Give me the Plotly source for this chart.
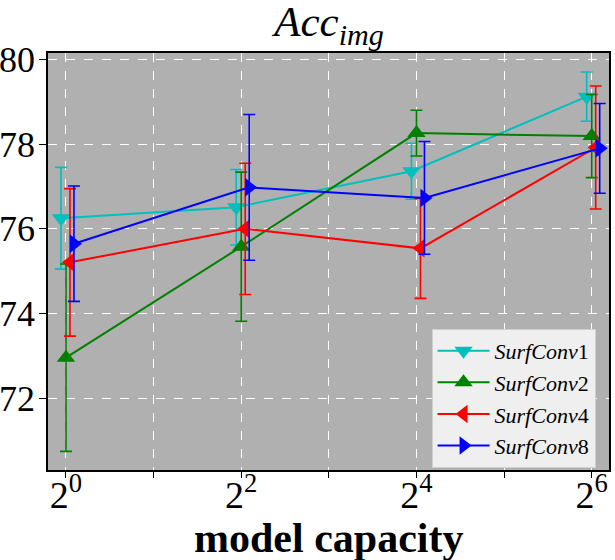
import plotly.graph_objects as go

capacity = [1, 4, 16, 64]

series_names = ["SurfConv1", "SurfConv2", "SurfConv4", "SurfConv8"]
acc_conv1 = [76.25, 76.51, 77.36, 79.12]
err_conv1 = [1.20, 0.89, 0.66, 0.58]
acc_conv2 = [72.96, 75.58, 78.26, 78.19]
err_conv2 = [2.21, 1.76, 0.54, 0.98]
acc_conv4 = [75.21, 76.00, 75.54, 77.92]
err_conv4 = [1.74, 1.55, 1.18, 1.45]
acc_conv8 = [75.65, 76.98, 76.73, 77.90]
err_conv8 = [1.36, 1.72, 1.33, 1.06]

# small horizontal dodge so the error bars don't sit on top of each other
styles = [
    ("#00bfbf", "triangle-down", 0.961),
    ("#008000", "triangle-up", 1.0),
    ("#ff0000", "triangle-left", 1.032),
    ("#0000ff", "triangle-right", 1.065),
]

series = [
    (acc_conv1, err_conv1),
    (acc_conv2, err_conv2),
    (acc_conv4, err_conv4),
    (acc_conv8, err_conv8),
]

SERIF = "Liberation Serif"

fig = go.Figure()

for name, (acc, err), (color, symbol, shift) in zip(series_names, series, styles):
    fig.add_trace(
        go.Scatter(
            x=[c * shift for c in capacity],
            y=acc,
            mode="lines+markers",
            name="<i>SurfConv</i>" + name[-1],
            line=dict(color=color, width=2),
            marker=dict(symbol=symbol, size=16, color=color),
            error_y=dict(type="data", array=err, color=color, thickness=1.6, width=6),
        )
    )

fig.update_layout(
    width=615,
    height=560,
    paper_bgcolor="white",
    plot_bgcolor="#b0b0b0",
    margin=dict(l=48, r=6, t=53, b=90),
    font=dict(family=SERIF, color="black"),
    title=dict(
        text="<i>Acc</i><sub><i>img</i></sub>",
        x=0.535,
        xanchor="center",
        y=0.962,
        yanchor="middle",
        font=dict(size=43, family=SERIF),
    ),
    showlegend=True,
    legend=dict(
        x=0.976,
        y=0.005,
        xanchor="right",
        yanchor="bottom",
        bgcolor="#efefef",
        bordercolor="#d0d0d0",
        borderwidth=1,
        itemwidth=52,
        font=dict(size=22, family=SERIF),
        tracegroupgap=2,
    ),
    annotations=[
        dict(
            text="<b>model capacity</b>",
            xref="paper",
            yref="paper",
            x=0.5,
            y=-0.163,
            xanchor="center",
            yanchor="middle",
            showarrow=False,
            font=dict(size=42, family=SERIF),
        )
    ],
)

fig.update_xaxes(
    type="log",
    range=[-0.0618, 1.8655],
    tickvals=capacity,
    ticktext=["2<sup>0</sup>", "2<sup>2</sup>", "2<sup>4</sup>", "2<sup>6</sup>"],
    tickfont=dict(size=38, family=SERIF),
    ticklabelstandoff=-15,
    ticks="outside",
    ticklen=6,
    tickcolor="black",
    showgrid=True,
    gridcolor="white",
    griddash="dash",
    gridwidth=1,
    minor=dict(
        tickvals=[2, 8, 32],
        showgrid=True,
        gridcolor="white",
        griddash="dash",
        ticks="outside",
        ticklen=6,
        tickcolor="black",
    ),
    showline=True,
    linecolor="black",
    linewidth=1.5,
    mirror=True,
    zeroline=False,
    automargin=False,
)

fig.update_yaxes(
    range=[70.31, 80.15],
    tickvals=[72, 74, 76, 78, 80],
    tickfont=dict(size=36, family=SERIF),
    ticklabelstandoff=-3,
    ticks="outside",
    ticklen=7,
    tickcolor="black",
    showgrid=True,
    gridcolor="white",
    griddash="dash",
    gridwidth=1,
    showline=True,
    linecolor="black",
    linewidth=1.5,
    mirror=True,
    zeroline=False,
    automargin=False,
)

# the page's default body margin would push the figure 8px down/right
fig.write_html(
    "out.html",
    config={"displayModeBar": False},
    post_script="document.body.style.margin = '0';",
)
